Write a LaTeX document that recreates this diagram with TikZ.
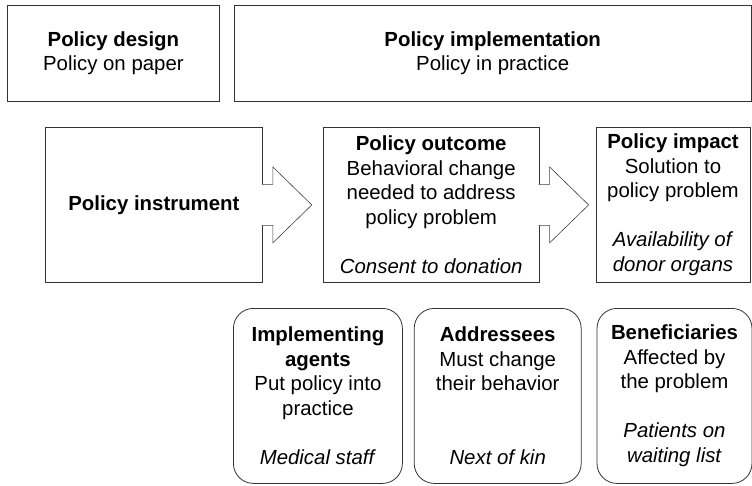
\documentclass[tikz,border=0pt]{standalone}
\usepackage{fontspec}
\setmainfont{Liberation Sans}
\usetikzlibrary{positioning,calc}

\begin{document}
\begin{tikzpicture}[x=1pt,y=-1pt,
    every node/.style={font=\fontsize{20.4}{24.5}\selectfont, align=center, inner sep=0pt},
    outline/.style={draw=black!80, line width=0.8pt, fill=white},
    phasebox/.style={outline, minimum height=96pt},
    stagebox/.style={outline, minimum height=155pt},
    actorbox/.style={outline, rounded corners=20pt, minimum height=175pt},
    flow/.style={draw=black!75, line width=0.6pt, fill=white}]
    \useasboundingbox (0,0) rectangle (752,485);

    % design and implementation
    \node[phasebox, minimum width=212pt, anchor=north west] (design) at (7,5)
        {\textbf{Policy design}\\Policy on paper};
    \node[phasebox, minimum width=517pt] (impl) [right=14pt of design]
        {\textbf{Policy implementation}\\Policy in practice};

    % causal chain
    \node[stagebox, minimum width=217pt, anchor=north west] (instr) at (45,127)
        {\textbf{Policy instrument}};
    \node[stagebox, minimum width=216pt] (outcome) [right=60pt of instr]
        {\textbf{Policy outcome}\\Behavioral change\\needed to address\\policy problem\\[24.5pt]\textit{Consent to donation}};
    \node[stagebox, minimum width=154pt] (impact) [right=56pt of outcome]
        {\textbf{Policy impact}\\Solution to\\policy problem\\[24.5pt]\textit{Availability of}\\\textit{donor organs}};

    \foreach \src in {instr, outcome}
      \draw[flow] ($(\src.east)+(-1,-20.5)$) -- ++(11,0) -- ++(0,-17.5)
        -- ($(\src.east)+(49,0)$) -- ($(\src.east)+(10,38)$) -- ++(0,-17.5)
        -- ($(\src.east)+(-1,20.5)$);

    % actors
    \node[actorbox, minimum width=169pt, anchor=north west] (agents) at (233,308)
        {\textbf{Implementing}\\\textbf{agents}\\Put policy into\\practice\\[24.5pt]\textit{Medical staff}};
    \node[actorbox, minimum width=167pt] (addressees) [right=11pt of agents]
        {\textbf{Addressees}\\Must change\\their behavior\\[49pt]\textit{Next of kin}};
    \node[actorbox, minimum width=155pt] (benef) [right=15pt of addressees]
        {\textbf{Beneficiaries}\\Affected by\\the problem\\[24.5pt]\textit{Patients on}\\\textit{waiting list}};
\end{tikzpicture}
\end{document}
